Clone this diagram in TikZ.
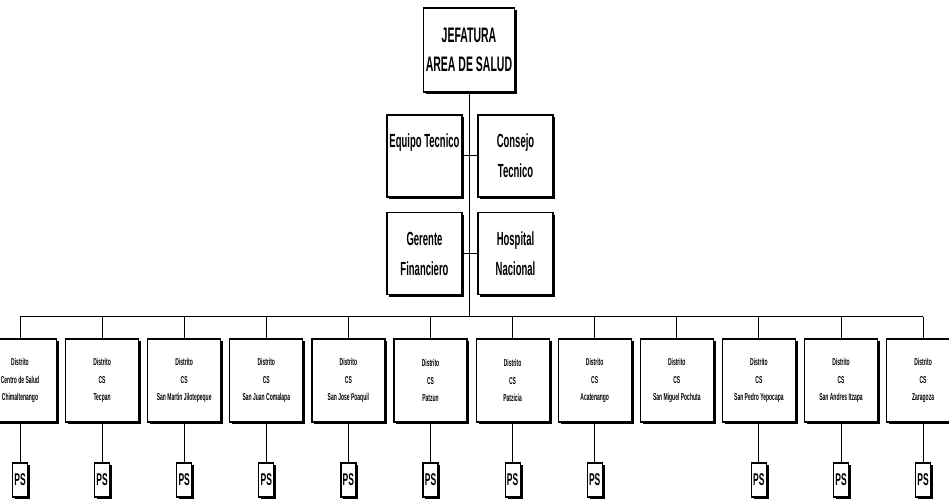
\documentclass[tikz,border=0pt]{standalone}
\usepackage{fontspec}
\setmainfont{Liberation Sans}[FakeStretch=0.5]
\usetikzlibrary{shadows}

\tikzset{
  box/.style={draw, line width=0.6pt, fill=white, align=center, inner sep=1pt,
    drop shadow={shadow xshift=1.2pt, shadow yshift=-1.2pt, fill=black, opacity=1}},
  topbox/.style={box, minimum width=44pt, minimum height=42pt,
    font=\bfseries\fontsize{10.5}{14.5}\selectfont},
  sidebox/.style={box, minimum width=37.5pt, minimum height=41pt,
    font=\bfseries\fontsize{9.5}{15}\selectfont},
  distbox/.style={box, minimum width=36.5pt, minimum height=41.5pt,
    font=\bfseries\fontsize{5}{8.75}\selectfont},
  psbox/.style={box, minimum width=7.5pt, minimum height=17pt, inner sep=0pt,
    font=\bfseries\fontsize{8.5}{9}\selectfont},
  link/.style={line width=0.5pt}
}

\begin{document}
\begin{tikzpicture}[x=0.5pt, y=-0.5pt]
            \useasboundingbox (0,0) rectangle (949,501);

            \node[topbox] (J) at (469,50) {JEFATURA\\AREA DE SALUD};
            \node[sidebox] (ET) at (424.5,156) {Equipo Tecnico\\\mbox{}};
            \node[sidebox] (CT) at (515.5,156) {Consejo\\Tecnico};
            \node[sidebox] (GF) at (424.5,253.5) {Gerente\\Financiero};
            \node[sidebox] (HN) at (515.5,253.5) {Hospital\\Nacional};

            \coordinate (bus) at (470,317);

            \foreach \i/\cs/\name in {1/Centro de Salud/Chimaltenango, 2/CS/Tecpan,
                3/CS/San Martin Jilotepeque, 4/CS/San Juan Comalapa, 5/CS/San Jose Poaquil,
                6/CS/Patzun, 7/CS/Patzicia, 8/CS/Acatenango, 9/CS/San Miguel Pochuta,
                10/CS/San Pedro Yepocapa, 11/CS/San Andres Itzapa, 12/CS/Zaragoza}
                \node[distbox] (D\i) at ({20+82.1*(\i-1)},380.5) {Distrito\\\cs\\\name};

            \foreach \i in {1,2,3,4,5,6,7,8,10,11,12}
                \node[psbox] (P\i) at (D\i |- 0,480) {PS};

            \draw[link] (J) -- (J |- bus);
            \draw[link] (ET) -- (CT);
            \draw[link] (GF) -- (HN);
            \draw[link] (D1 |- bus) -- (D12 |- bus);

            \foreach \i in {1,...,12}
                \draw[link] (D\i) -- (D\i |- bus);
            \foreach \i in {1,2,3,4,5,6,7,8,10,11,12}
                \draw[link] (D\i) -- (P\i);
        \end{tikzpicture}
\end{document}
